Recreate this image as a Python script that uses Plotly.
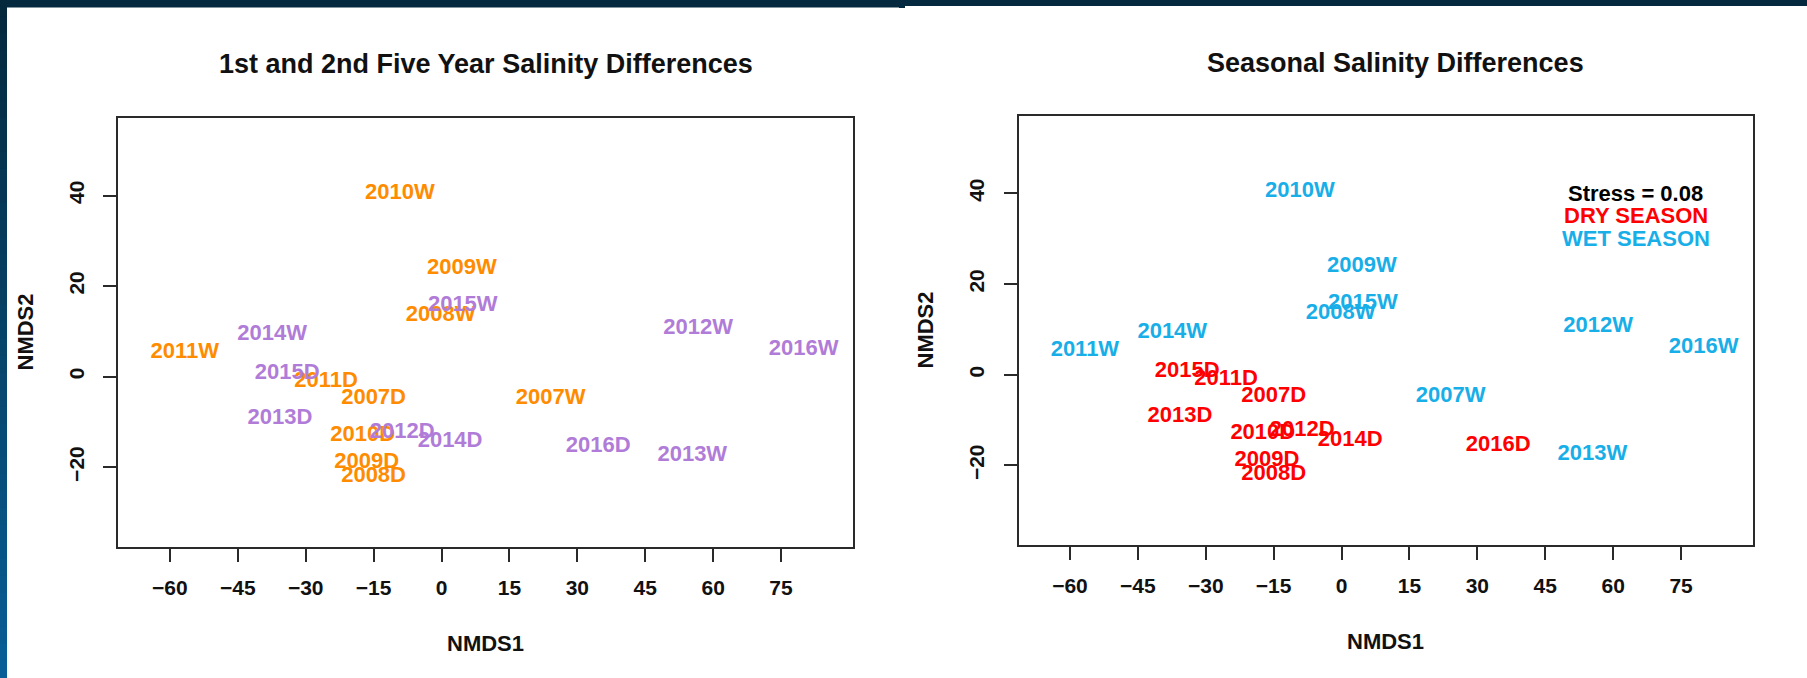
import plotly.graph_objects as go

# NMDS ordination scores for each sampling (year + season)
labels = ["2007D", "2007W", "2008D", "2008W", "2009D", "2009W", "2010D", "2010W",
          "2011D", "2011W", "2012D", "2012W", "2013D", "2013W", "2014D", "2014W",
          "2015D", "2015W", "2016D", "2016W"]
nmds1 = [-15.0, 24.1, -15.0, -0.2, -16.5, 4.5, -17.4, -9.2,
         -25.5, -56.7, -8.7, 56.7, -35.7, 55.4, 1.9, -37.4,
         -34.1, 4.7, 34.6, 80.0]
nmds2 = [-4.9, -4.9, -22.1, 13.6, -18.9, 23.9, -12.9, 40.5,
         -1.1, 5.4, -12.4, 10.7, -9.2, -17.5, -14.4, 9.2,
         0.6, 15.8, -15.5, 5.9]

x_ticks = [-60, -45, -30, -15, 0, 15, 30, 45, 60, 75]
y_ticks = [-20, 0, 20, 40]

stress_text = "Stress = 0.08"
legend_items = ["DRY SEASON", "WET SEASON"]

ORANGE = "#FF8C00"
PURPLE = "#B07CD8"
RED = "#FF0000"
BLUE = "#18AEE8"
FONT = "Liberation Sans, Arial, sans-serif"

W, H = 1807, 678

period_colors = [ORANGE if int(l[:4]) <= 2011 else PURPLE for l in labels]
season_colors = [RED if l.endswith("D") else BLUE for l in labels]

fig = go.Figure()

fig.add_trace(go.Scatter(
    x=nmds1, y=nmds2, text=labels, mode="text", textposition="middle center",
    textfont=dict(family=FONT, size=22, color=period_colors, weight="bold"),
    xaxis="x", yaxis="y", showlegend=False, hoverinfo="skip"))
fig.add_trace(go.Scatter(
    x=nmds1, y=nmds2, text=labels, mode="text", textposition="middle center",
    textfont=dict(family=FONT, size=22, color=season_colors, weight="bold"),
    xaxis="x2", yaxis="y2", showlegend=False, hoverinfo="skip"))


def px_x(p):
    return p / W


def px_y(p):
    return 1 - p / H


axis_common = dict(
    showgrid=False, zeroline=False, showline=True, mirror=True,
    linecolor="#2a2a2a", linewidth=2,
    ticks="outside", ticklen=13, tickwidth=1.5, tickcolor="#2a2a2a",
    tickfont=dict(family=FONT, size=21, color="#111", weight="bold"),
    fixedrange=True,
)

x_range = [-71.37, 90.83]
y_range = [-37.55, 57.05]

fig.update_layout(
    width=W, height=H,
    margin=dict(l=0, r=0, t=0, b=0),
    paper_bgcolor="#052a3f",
    plot_bgcolor="white",
    xaxis=dict(axis_common, domain=[px_x(118.4), px_x(852.7)], range=x_range,
               tickvals=x_ticks, anchor="y", ticklabelstandoff=8),
    yaxis=dict(axis_common, domain=[px_y(546.7), px_y(118.3)], range=y_range,
               tickvals=y_ticks, anchor="x", tickangle=-90, ticklabelstandoff=11),
    xaxis2=dict(axis_common, domain=[px_x(1018.5), px_x(1752.7)], range=x_range,
                tickvals=x_ticks, anchor="y2", ticklabelstandoff=8),
    yaxis2=dict(axis_common, domain=[px_y(545.0), px_y(116.0)], range=y_range,
                tickvals=y_ticks, anchor="x2", tickangle=-90, ticklabelstandoff=11),
)

# page background: white panels on a dark frame with a blue gradient strip at left
shapes = [
    dict(type="rect", xref="paper", yref="paper", layer="below",
         x0=px_x(7), x1=px_x(899), y0=0, y1=px_y(7.5),
         fillcolor="white", line=dict(width=0)),
    dict(type="rect", xref="paper", yref="paper", layer="below",
         x0=px_x(899), x1=1, y0=0, y1=px_y(6),
         fillcolor="white", line=dict(width=0)),
    dict(type="rect", xref="paper", yref="paper", layer="below",
         x0=px_x(899), x1=px_x(905), y0=px_y(8), y1=1,
         fillcolor="#052a3f", line=dict(width=0)),
]
n_steps = 40
top_rgb = (4, 40, 60)
bot_rgb = (7, 94, 150)
for i in range(n_steps):
    t = i / (n_steps - 1)
    c = tuple(int(round(a + (b - a) * t)) for a, b in zip(top_rgb, bot_rgb))
    shapes.append(dict(type="rect", xref="paper", yref="paper", layer="below",
                       x0=0, x1=px_x(7),
                       y0=1 - (i + 1) / n_steps, y1=1 - i / n_steps + 0.001,
                       fillcolor="rgb(%d,%d,%d)" % c, line=dict(width=0)))
fig.update_layout(shapes=shapes)

annotations = []


def add_text(text, x, y, size, color="#111", xref="paper", yref="paper", angle=0):
    annotations.append(dict(text=text, x=x, y=y, xref=xref, yref=yref,
                            showarrow=False, xanchor="center", yanchor="middle",
                            textangle=angle,
                            font=dict(family=FONT, size=size, color=color, weight="bold")))


# panel titles
add_text("1st and 2nd Five Year Salinity Differences", px_x(485.5), px_y(64.5), 27)
add_text("Seasonal Salinity Differences", px_x(1395), px_y(63), 27)

# axis titles
add_text("NMDS1", px_x(485.5), px_y(643), 22)
add_text("NMDS1", px_x(1385.5), px_y(641), 22)
add_text("NMDS2", px_x(25), px_y(332.5), 22, angle=-90)
add_text("NMDS2", px_x(925), px_y(330.5), 22, angle=-90)

# stress value and season key on the seasonal panel
add_text(stress_text, 65, 40, 22, color="#000", xref="x2", yref="y2")
add_text(legend_items[0], 65, 35, 22, color=RED, xref="x2", yref="y2")
add_text(legend_items[1], 65, 30, 22, color=BLUE, xref="x2", yref="y2")

fig.update_layout(annotations=annotations)

fig.write_html("out.html")
